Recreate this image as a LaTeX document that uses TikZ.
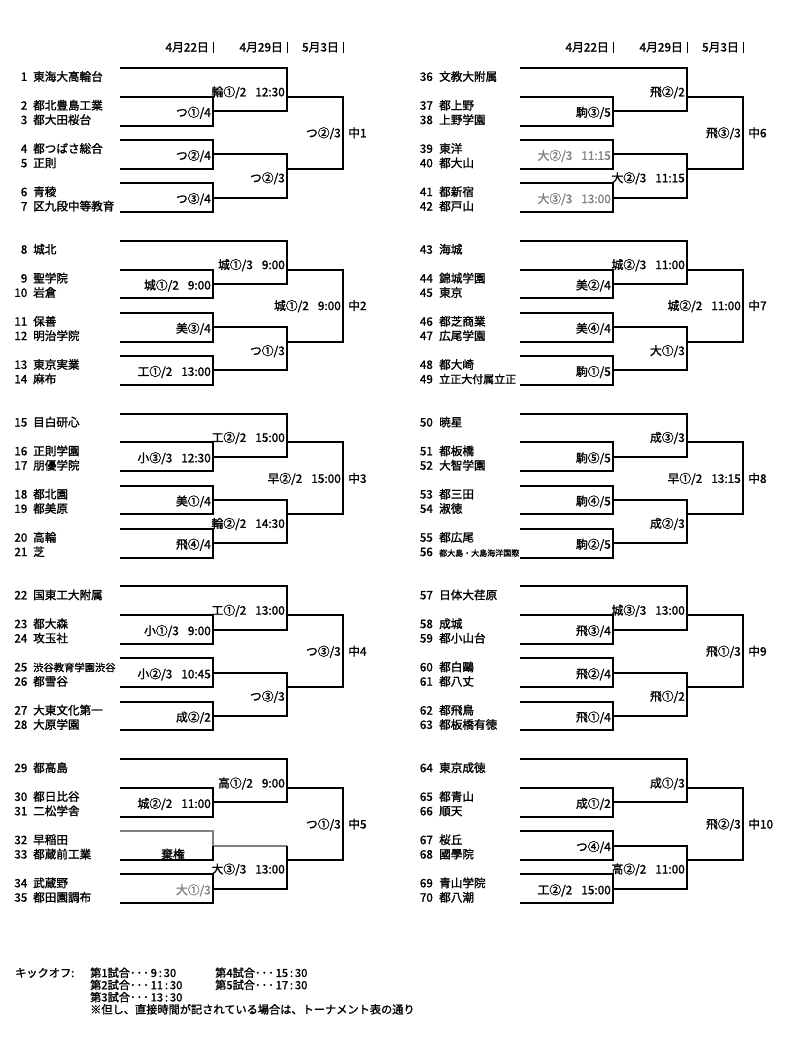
\documentclass[tikz,border=0pt]{standalone}
\usepackage{fontspec}
\setmainfont{Noto Sans CJK JP}[FakeBold=1.5]
\newcommand{\tgap}{\hspace{9pt}}

\begin{document}
\begin{tikzpicture}[x=1pt,y=-1pt,
  bline/.style={line width=2pt},
  gline/.style={line width=2pt, draw=gray},
  datebar/.style={line width=1pt},
  num/.style={anchor=base east, inner sep=0pt, font=\fontsize{11.6}{14}\selectfont},
  team/.style={anchor=base west, inner sep=0pt, font=\fontsize{11.6}{14}\selectfont},
  score/.style={anchor=base east, inner sep=0pt, font=\fontsize{11.8}{14}\selectfont},
  final/.style={anchor=base west, inner sep=0pt, font=\fontsize{11.8}{14}\selectfont},
  note/.style={anchor=base west, inner sep=0pt, font=\fontsize{11.2}{13}\selectfont}]
\useasboundingbox (0,0) rectangle (800,1052);

% dates
\foreach \X in {0,400}
  \foreach \x/\d in {213/4月22日,287/4月29日,343/5月3日} {
    \node[score] (d\X-\x) at (\X+\x-4,51.5) {\d};
    \draw[datebar] (\X+\x,41.7) -- (\X+\x,53.3);
  }

% brackets
\foreach \blk/\ra/\pa/\pb/\pc/\rb/\rc in {
  1/{輪①/2\tgap 12:30}/{つ①/4}/{つ②/4}/{つ③/4}/{つ②/3}/{つ②/3},
  2/{城①/3\tgap 9:00}/{城①/2\tgap 9:00}/{美③/4}/{工①/2\tgap 13:00}/{つ①/3}/{城①/2\tgap 9:00},
  3/{工②/2\tgap 15:00}/{小③/3\tgap 12:30}/{美①/4}/{飛④/4}/{輪②/2\tgap 14:30}/{早②/2\tgap 15:00},
  4/{工①/2\tgap 13:00}/{小①/3\tgap 9:00}/{小②/3\tgap 10:45}/{成②/2}/{つ③/3}/{つ③/3},
  5/{高①/2\tgap 9:00}/{城②/2\tgap 11:00}/{棄権}/{\textcolor{gray}{大①/3}}/{大③/3\tgap 13:00}/{つ①/3},
  6/{飛②/2}/{駒③/5}/{\textcolor{gray}{大②/3\tgap 11:15}}/{\textcolor{gray}{大③/3\tgap 13:00}}/{大②/3\tgap 11:15}/{飛③/3},
  7/{城②/3\tgap 11:00}/{美②/4}/{美④/4}/{駒①/5}/{大①/3}/{城②/2\tgap 11:00},
  8/{成③/3}/{駒⑤/5}/{駒④/5}/{駒②/5}/{成②/3}/{早①/2\tgap 13:15},
  9/{城③/3\tgap 13:00}/{飛③/4}/{飛②/4}/{飛①/4}/{飛①/2}/{飛①/3},
  10/{成①/3}/{成①/2}/{つ④/4}/{工②/2\tgap 15:00}/{高②/2\tgap 11:00}/{飛②/3}} {
  \pgfmathsetmacro\X{400*(\blk>5)}
  \pgfmathsetmacro\T{68+172.8*mod(\blk-1,5)}
  \begin{scope}[shift={(\X,\T)}]
    \draw[bline] (120,0) -- (287,0) -- (287,43.2) -- (213,43.2);
    \draw[bline] (120,28.8) -- (213,28.8) -- (213,57.6) -- (120,57.6);
    \ifnum\blk=5
      \draw[gline] (120,72) -- (213,72) -- (213,86.4) -- (287,86.4);
      \draw[bline] (213,86.4) -- (213,100.8) -- (120,100.8);
      \draw[bline] (287,86.4) -- (287,129.6) -- (213,129.6);
    \else
      \draw[bline] (120,72) -- (213,72) -- (213,100.8) -- (120,100.8);
      \draw[bline] (213,86.4) -- (287,86.4) -- (287,129.6) -- (213,129.6);
    \fi
    \draw[bline] (120,115.2) -- (213,115.2) -- (213,144) -- (120,144);
    \draw[bline] (287,28.8) -- (343,28.8) -- (343,100.8) -- (287,100.8);
    % results
    \node[score] (ra\blk) at (285,28.3) {\ra};
    \node[score] (pa\blk) at (211,48.7) {\pa};
    \ifnum\blk=5
      \node[score, anchor=base] (pb\blk) at (173,99.5) {\pb};
    \else
      \node[score] (pb\blk) at (211,91.9) {\pb};
    \fi
    \node[score] (pc\blk) at (211,135.1) {\pc};
    \node[score] (rb\blk) at (285,114.3) {\rb};
    \node[score] (rc\blk) at (341,69.3) {\rc};
    \node[final] (f\blk) at (348,69.3) {中\blk};
  \end{scope}
}

% teams
\foreach \i/\nm in {1/東海大高輪台,2/都北豊島工業,3/都大田桜台,4/都つばさ総合,5/正則,6/青稜,7/区九段中等教育,
  8/城北,9/聖学院,10/岩倉,11/保善,12/明治学院,13/東京実業,14/麻布,
  15/目白研心,16/正則学園,17/朋優学院,18/都北園,19/都美原,20/高輪,21/芝,
  22/国東工大附属,23/都大森,24/攻玉社,25/{\fontsize{10.3}{12}\selectfont 渋谷教育学園渋谷},26/都雪谷,27/大東文化第一,28/大原学園,
  29/都高島,30/都日比谷,31/二松学舎,32/早稲田,33/都蔵前工業,34/武蔵野,35/都田園調布,
  36/文教大附属,37/都上野,38/上野学園,39/東洋,40/都大山,41/都新宿,42/都戸山,
  43/海城,44/錦城学園,45/東京,46/都芝商業,47/広尾学園,48/都大崎,49/{\fontsize{11}{14}\selectfont 立正大付属立正},
  50/暁星,51/都板橋,52/大智学園,53/都三田,54/淑徳,55/都広尾,56/{\fontsize{8}{10}\selectfont 都大島・大島海洋国際},
  57/日体大荏原,58/成城,59/都小山台,60/都白鷗,61/都八丈,62/都飛鳥,63/都板橋有徳,
  64/東京成徳,65/都青山,66/順天,67/桜丘,68/國學院,69/青山学院,70/都八潮} {
  \pgfmathtruncatemacro\sd{int((\i-1)/35)}
  \pgfmathtruncatemacro\kk{int(mod(\i-1,35)/7)}
  \pgfmathtruncatemacro\jj{mod(\i-1,7)}
  \pgfmathtruncatemacro\rw{\jj+int((\jj+1)/2)}
  \pgfmathsetmacro\yy{68+172.8*\kk+(\rw+1)*14.4-1.5}
  \node[num] (n\i) at (27.5+405.5*\sd,\yy) {\i};
  \node[team] (t\i) at (33+406*\sd,\yy) {\nm};
}

% kick-off times
\node[note] (ko) at (15,977) {キックオフ:};
\node[note] (m1) at (90,977) {第1試合･\kern1pt･\kern1pt･\,9\,:\,30};
\node[note] (m4) at (215,977) {第4試合･\kern1pt･\kern1pt･\,15\,:\,30};
\node[note] (m2) at (90,989.2) {第2試合･\kern1pt･\kern1pt･\,11\,:\,30};
\node[note] (m5) at (215,989.2) {第5試合･\kern1pt･\kern1pt･\,17\,:\,30};
\node[note] (m3) at (90,1001.4) {第3試合･\kern1pt･\kern1pt･\,13\,:\,30};
\node[note] (nb) at (90,1013.6) {※但し、直接時間が記されている場合は、トーナメント表の通り};
\end{tikzpicture}
\end{document}
